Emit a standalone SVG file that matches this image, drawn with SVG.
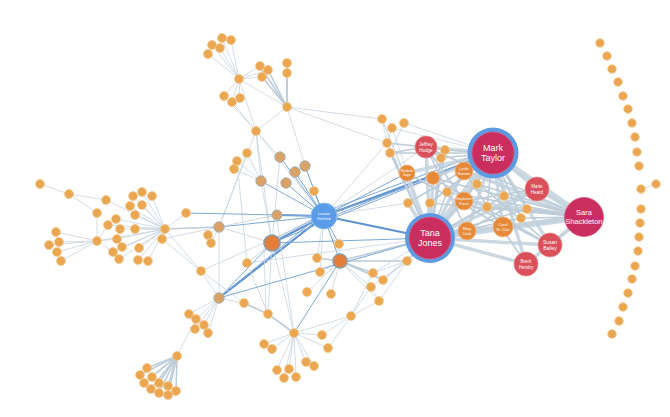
<svg xmlns="http://www.w3.org/2000/svg" width="670" height="417" viewBox="0 0 670 417">
<style>
.e{stroke:#C6D4DF;stroke-width:0.8;fill:none}
.m{stroke:#BDCCD9;stroke-width:1.6;fill:none}
.t{stroke:#C4D2DD;stroke-width:3.5;fill:none;opacity:.85}
.tt{stroke:#C4D2DD;stroke-width:6;fill:none;opacity:.85}
.b{stroke:#7DA8D8;stroke-width:1;fill:none}
.bt{stroke:#5E93D0;stroke-width:2.2;fill:none}
.o{fill:#EBA652;stroke:#F3C98F;stroke-width:0.8}
.d{fill:#D9A366;stroke:#A7AEB4;stroke-width:1}
.dd{fill:#E27E38;stroke:#8E9BA6;stroke-width:1.6}
.om{fill:#E68A3A;stroke:#F2B27A;stroke-width:0.8}
.r{fill:#D9505A;stroke:#E9868C;stroke-width:0.8}
.p{fill:#C92E5E;stroke:#D95A82;stroke-width:0.8}
.ring{fill:#5C9BE2}
.lk{fill:#5A9CE8;stroke:#8CBDF0;stroke-width:1}
text{font-family:"Liberation Sans",Arial,sans-serif;fill:#fff;text-anchor:middle}
</style>
<rect width="670" height="417" fill="#fff"/>
<g id="connectors">
<!-- top-left -->
<line class="e" x1="239" y1="79" x2="222" y2="38"/><line class="e" x1="239" y1="79" x2="231" y2="40"/><line class="e" x1="239" y1="79" x2="212" y2="45"/><line class="e" x1="239" y1="79" x2="220" y2="48"/><line class="e" x1="239" y1="79" x2="208" y2="54"/>
<line class="e" x1="239" y1="79" x2="260" y2="66"/><line class="e" x1="239" y1="79" x2="268" y2="70"/><line class="e" x1="239" y1="79" x2="262" y2="77"/>
<line class="e" x1="239" y1="79" x2="224" y2="96"/><line class="e" x1="239" y1="79" x2="232" y2="102"/><line class="e" x1="239" y1="79" x2="240" y2="98"/>
<line class="e" x1="239" y1="79" x2="256" y2="131"/><line class="e" x1="239" y1="79" x2="287" y2="107"/><line class="e" x1="224" y1="96" x2="256" y2="131"/><line class="e" x1="232" y1="102" x2="256" y2="131"/>
<line class="m" x1="287" y1="107" x2="260" y2="66"/><line class="m" x1="287" y1="107" x2="268" y2="70"/><line class="m" x1="287" y1="107" x2="262" y2="77"/><line class="m" x1="287" y1="107" x2="287" y2="63"/><line class="m" x1="287" y1="107" x2="287" y2="73"/>
<line class="e" x1="287" y1="107" x2="256" y2="131"/><line class="e" x1="287" y1="107" x2="305" y2="166"/><line class="e" x1="287" y1="107" x2="382" y2="119"/><line class="e" x1="287" y1="107" x2="387" y2="143"/>
<line class="e" x1="256" y1="131" x2="261" y2="181"/><line class="e" x1="256" y1="131" x2="280" y2="157"/><line class="e" x1="256" y1="131" x2="219" y2="227"/><line class="e" x1="256" y1="131" x2="272" y2="243"/><line class="e" x1="256" y1="131" x2="324" y2="216"/>
<line class="e" x1="247" y1="153" x2="261" y2="181"/><line class="e" x1="237" y1="161" x2="261" y2="181"/><line class="e" x1="234" y1="169" x2="261" y2="181"/><line class="e" x1="247" y1="153" x2="219" y2="227"/><line class="e" x1="237" y1="161" x2="247" y2="263"/>
<line class="e" x1="261" y1="181" x2="272" y2="243"/><line class="e" x1="280" y1="157" x2="272" y2="243"/><line class="e" x1="305" y1="166" x2="340" y2="261"/>
<!-- Louise Kitchen -->
<line class="b" x1="324" y1="216" x2="280" y2="157"/><line class="b" x1="324" y1="216" x2="305" y2="166"/><line class="b" x1="324" y1="216" x2="295" y2="172"/><line class="b" x1="324" y1="216" x2="286" y2="183"/><line class="b" x1="324" y1="216" x2="261" y2="181"/><line class="b" x1="324" y1="216" x2="314" y2="191"/>
<line class="bt" x1="324" y1="216" x2="277" y2="215"/><line class="bt" x1="324" y1="216" x2="272" y2="243"/><line class="b" x1="324" y1="214" x2="272" y2="240"/>
<line class="b" x1="324" y1="216" x2="219" y2="227"/><line class="bt" x1="324" y1="216" x2="219" y2="298"/><line class="b" x1="324" y1="216" x2="186" y2="213"/><line class="e" x1="324" y1="216" x2="201" y2="271"/>
<line class="b" x1="324" y1="216" x2="339" y2="244"/><line class="e" x1="324" y1="216" x2="317" y2="258"/><line class="b" x1="324" y1="216" x2="340" y2="261"/><line class="e" x1="324" y1="216" x2="320" y2="272"/>
<line class="bt" x1="324" y1="216" x2="493" y2="153"/><line class="b" x1="324" y1="212" x2="493" y2="149"/><line class="b" x1="324" y1="220" x2="470" y2="160"/>
<line class="bt" x1="324" y1="216" x2="430" y2="238"/><line class="b" x1="324" y1="216" x2="407" y2="173"/><line class="b" x1="324" y1="216" x2="433" y2="178"/><line class="e" x1="324" y1="216" x2="426" y2="147"/><line class="e" x1="324" y1="216" x2="387" y2="143"/><line class="e" x1="324" y1="216" x2="408" y2="203"/>
<!-- left clusters -->
<line class="e" x1="40" y1="184" x2="69" y2="194"/><line class="e" x1="69" y1="194" x2="106" y2="200"/><line class="e" x1="69" y1="194" x2="97" y2="213"/><line class="e" x1="97" y1="213" x2="97" y2="241"/><line class="e" x1="106" y1="200" x2="165" y2="229"/>
<line class="e" x1="165" y1="229" x2="133" y2="196"/><line class="e" x1="165" y1="229" x2="142" y2="192"/><line class="e" x1="165" y1="229" x2="152" y2="196"/><line class="e" x1="165" y1="229" x2="130" y2="206"/><line class="e" x1="165" y1="229" x2="142" y2="205"/><line class="e" x1="165" y1="229" x2="135" y2="215"/>
<line class="e" x1="165" y1="229" x2="116" y2="219"/><line class="e" x1="165" y1="229" x2="108" y2="225"/><line class="e" x1="165" y1="229" x2="120" y2="229"/><line class="e" x1="165" y1="229" x2="135" y2="229"/><line class="e" x1="165" y1="229" x2="117" y2="239"/><line class="e" x1="165" y1="229" x2="122" y2="247"/>
<line class="e" x1="165" y1="229" x2="113" y2="252"/><line class="e" x1="165" y1="229" x2="119" y2="259"/><line class="e" x1="165" y1="229" x2="139" y2="248"/><line class="e" x1="165" y1="229" x2="138" y2="260"/><line class="e" x1="165" y1="229" x2="148" y2="261"/><line class="e" x1="165" y1="229" x2="97" y2="241"/>
<line class="e" x1="165" y1="229" x2="186" y2="213"/><line class="e" x1="165" y1="229" x2="162" y2="239"/><line class="m" x1="165" y1="229" x2="219" y2="227"/><line class="e" x1="162" y1="239" x2="219" y2="227"/><line class="e" x1="165" y1="229" x2="201" y2="271"/>
<line class="e" x1="97" y1="241" x2="56" y2="232"/><line class="e" x1="97" y1="241" x2="59" y2="242"/><line class="e" x1="97" y1="241" x2="49" y2="245"/><line class="e" x1="97" y1="241" x2="57" y2="252"/><line class="e" x1="97" y1="241" x2="61" y2="261"/>
<line class="e" x1="97" y1="241" x2="108" y2="225"/><line class="e" x1="97" y1="241" x2="113" y2="252"/><line class="e" x1="97" y1="241" x2="117" y2="239"/>
<line class="e" x1="219" y1="227" x2="208" y2="235"/><line class="e" x1="219" y1="227" x2="211" y2="243"/><line class="e" x1="219" y1="227" x2="219" y2="298"/><line class="e" x1="219" y1="227" x2="277" y2="215"/><line class="e" x1="219" y1="227" x2="272" y2="243"/>
<!-- lower -->
<line class="e" x1="219" y1="298" x2="189" y2="314"/><line class="e" x1="219" y1="298" x2="196" y2="319"/><line class="e" x1="219" y1="298" x2="204" y2="325"/><line class="e" x1="219" y1="298" x2="195" y2="329"/><line class="e" x1="219" y1="298" x2="208" y2="333"/>
<line class="e" x1="219" y1="298" x2="201" y2="271"/><line class="b" x1="219" y1="298" x2="272" y2="243"/><line class="b" x1="221" y1="296" x2="324" y2="212"/><line class="e" x1="219" y1="298" x2="244" y2="303"/><line class="e" x1="196" y1="319" x2="177" y2="356"/>
<line class="e" x1="201" y1="271" x2="244" y2="303"/><line class="e" x1="201" y1="271" x2="162" y2="239"/>
<line class="m" x1="177" y1="356" x2="147" y2="368"/><line class="m" x1="177" y1="356" x2="140" y2="375"/><line class="m" x1="177" y1="356" x2="152" y2="377"/><line class="m" x1="177" y1="356" x2="144" y2="383"/><line class="m" x1="177" y1="356" x2="159" y2="383"/>
<line class="m" x1="177" y1="356" x2="168" y2="386"/><line class="m" x1="177" y1="356" x2="151" y2="389"/><line class="m" x1="177" y1="356" x2="159" y2="393"/><line class="m" x1="177" y1="356" x2="168" y2="395"/><line class="m" x1="177" y1="356" x2="176" y2="391"/>
<line class="m" x1="244" y1="303" x2="268" y2="314"/><line class="m" x1="268" y1="314" x2="294" y2="333"/><line class="e" x1="268" y1="314" x2="272" y2="243"/><line class="e" x1="266" y1="314" x2="264" y2="250"/><line class="e" x1="247" y1="263" x2="268" y2="314"/><line class="e" x1="247" y1="263" x2="272" y2="243"/>
<line class="e" x1="294" y1="333" x2="264" y2="344"/><line class="e" x1="294" y1="333" x2="272" y2="349"/><line class="e" x1="294" y1="333" x2="277" y2="370"/><line class="e" x1="294" y1="333" x2="289" y2="369"/><line class="e" x1="294" y1="333" x2="284" y2="378"/><line class="e" x1="294" y1="333" x2="296" y2="377"/>
<line class="e" x1="294" y1="333" x2="306" y2="362"/><line class="e" x1="294" y1="333" x2="314" y2="366"/><line class="e" x1="294" y1="333" x2="322" y2="335"/><line class="e" x1="294" y1="333" x2="328" y2="348"/><line class="e" x1="294" y1="333" x2="351" y2="316"/>
<line class="b" x1="294" y1="333" x2="340" y2="261"/><line class="e" x1="294" y1="333" x2="272" y2="243"/><line class="e" x1="294" y1="333" x2="276" y2="214"/>
<line class="e" x1="351" y1="316" x2="322" y2="335"/><line class="e" x1="351" y1="316" x2="328" y2="348"/><line class="e" x1="351" y1="316" x2="371" y2="287"/><line class="e" x1="351" y1="316" x2="379" y2="301"/><line class="e" x1="351" y1="316" x2="373" y2="273"/>
<line class="m" x1="340" y1="261" x2="317" y2="258"/><line class="e" x1="340" y1="261" x2="320" y2="272"/><line class="e" x1="340" y1="261" x2="307" y2="292"/><line class="e" x1="340" y1="261" x2="331" y2="294"/><line class="m" x1="340" y1="261" x2="373" y2="273"/>
<line class="m" x1="340" y1="261" x2="383" y2="280"/><line class="e" x1="340" y1="261" x2="371" y2="287"/><line class="e" x1="340" y1="261" x2="379" y2="301"/><line class="m" x1="340" y1="261" x2="407" y2="261"/><line class="m" x1="340" y1="261" x2="430" y2="238"/><line class="e" x1="340" y1="261" x2="339" y2="244"/>
<line class="e" x1="373" y1="273" x2="407" y2="261"/><line class="e" x1="383" y1="280" x2="407" y2="261"/><line class="e" x1="371" y1="287" x2="407" y2="261"/><line class="e" x1="379" y1="301" x2="407" y2="261"/><line class="e" x1="373" y1="273" x2="383" y2="280"/><line class="e" x1="371" y1="287" x2="379" y2="301"/>
<line class="m" x1="407" y1="261" x2="430" y2="238"/><line class="e" x1="383" y1="280" x2="430" y2="238"/><line class="e" x1="373" y1="273" x2="430" y2="238"/>
<line class="b" x1="272" y1="243" x2="430" y2="238"/><line class="b" x1="272" y1="243" x2="493" y2="153"/><line class="b" x1="219" y1="298" x2="430" y2="238"/><line class="e" x1="247" y1="263" x2="430" y2="238"/>
<!-- upper right small -->
<line class="e" x1="382" y1="119" x2="387" y2="143"/><line class="e" x1="392" y1="128" x2="387" y2="143"/><line class="e" x1="404" y1="123" x2="390" y2="153"/><line class="m" x1="387" y1="143" x2="426" y2="147"/><line class="m" x1="390" y1="153" x2="426" y2="147"/>
<line class="m" x1="387" y1="143" x2="430" y2="238"/><line class="m" x1="390" y1="153" x2="430" y2="238"/><line class="m" x1="390" y1="153" x2="493" y2="153"/><line class="e" x1="392" y1="128" x2="493" y2="153"/><line class="e" x1="404" y1="123" x2="493" y2="153"/><line class="e" x1="382" y1="119" x2="430" y2="238"/>
<line class="m" x1="426" y1="147" x2="445" y2="150"/><line class="m" x1="426" y1="147" x2="441" y2="158"/><line class="e" x1="390" y1="153" x2="407" y2="173"/>
<!-- right cluster thick -->
<line class="tt" x1="493" y1="153" x2="430" y2="238"/><line class="tt" x1="493" y1="153" x2="584" y2="217"/><line class="tt" x1="430" y1="238" x2="584" y2="217"/>
<line class="t" x1="493" y1="153" x2="426" y2="147"/><line class="t" x1="493" y1="153" x2="464" y2="171"/><line class="t" x1="493" y1="153" x2="464" y2="201"/><line class="t" x1="493" y1="153" x2="467" y2="231"/><line class="t" x1="493" y1="153" x2="503" y2="227"/>
<line class="t" x1="493" y1="153" x2="537" y2="189"/><line class="t" x1="493" y1="153" x2="550" y2="245"/><line class="t" x1="493" y1="153" x2="526" y2="264"/><line class="t" x1="493" y1="153" x2="407" y2="173"/><line class="t" x1="493" y1="153" x2="433" y2="178"/>
<line class="t" x1="430" y1="238" x2="426" y2="147"/><line class="t" x1="430" y1="238" x2="464" y2="171"/><line class="t" x1="430" y1="238" x2="464" y2="201"/><line class="t" x1="430" y1="238" x2="467" y2="231"/><line class="t" x1="430" y1="238" x2="503" y2="227"/>
<line class="t" x1="430" y1="238" x2="537" y2="189"/><line class="t" x1="430" y1="238" x2="550" y2="245"/><line class="t" x1="430" y1="238" x2="526" y2="264"/><line class="t" x1="430" y1="238" x2="407" y2="173"/><line class="t" x1="430" y1="238" x2="433" y2="178"/>
<line class="t" x1="584" y1="217" x2="537" y2="189"/><line class="t" x1="584" y1="217" x2="550" y2="245"/><line class="t" x1="584" y1="217" x2="526" y2="264"/><line class="t" x1="584" y1="217" x2="503" y2="227"/><line class="t" x1="584" y1="217" x2="467" y2="231"/>
<line class="t" x1="584" y1="217" x2="464" y2="201"/><line class="t" x1="584" y1="217" x2="464" y2="171"/><line class="m" x1="584" y1="217" x2="426" y2="147"/><line class="m" x1="584" y1="217" x2="433" y2="178"/>
<line class="m" x1="493" y1="153" x2="445" y2="150"/><line class="m" x1="493" y1="153" x2="441" y2="158"/><line class="m" x1="493" y1="153" x2="477" y2="184"/><line class="m" x1="493" y1="153" x2="447" y2="192"/><line class="m" x1="493" y1="153" x2="430" y2="203"/><line class="m" x1="493" y1="153" x2="408" y2="203"/>
<line class="m" x1="493" y1="153" x2="504" y2="196"/><line class="m" x1="493" y1="153" x2="487" y2="207"/><line class="m" x1="493" y1="153" x2="527" y2="209"/><line class="m" x1="493" y1="153" x2="521" y2="218"/>
<line class="m" x1="430" y1="238" x2="445" y2="150"/><line class="m" x1="430" y1="238" x2="441" y2="158"/><line class="m" x1="430" y1="238" x2="477" y2="184"/><line class="m" x1="430" y1="238" x2="447" y2="192"/><line class="t" x1="430" y1="238" x2="430" y2="203"/><line class="t" x1="430" y1="238" x2="408" y2="203"/>
<line class="m" x1="430" y1="238" x2="504" y2="196"/><line class="m" x1="430" y1="238" x2="487" y2="207"/><line class="m" x1="430" y1="238" x2="527" y2="209"/><line class="m" x1="430" y1="238" x2="521" y2="218"/>
<line class="m" x1="584" y1="217" x2="477" y2="184"/><line class="m" x1="584" y1="217" x2="447" y2="192"/><line class="m" x1="584" y1="217" x2="430" y2="203"/><line class="m" x1="584" y1="217" x2="504" y2="196"/><line class="m" x1="584" y1="217" x2="487" y2="207"/><line class="m" x1="584" y1="217" x2="527" y2="209"/><line class="m" x1="584" y1="217" x2="521" y2="218"/>
<line class="m" x1="537" y1="189" x2="464" y2="201"/><line class="m" x1="550" y1="245" x2="464" y2="201"/><line class="m" x1="526" y1="264" x2="464" y2="171"/><line class="m" x1="537" y1="189" x2="467" y2="231"/><line class="m" x1="550" y1="245" x2="464" y2="171"/>
<line class="m" x1="426" y1="147" x2="464" y2="201"/><line class="m" x1="426" y1="147" x2="467" y2="231"/><line class="m" x1="407" y1="173" x2="503" y2="227"/><line class="m" x1="433" y1="178" x2="550" y2="245"/>
<line class="e" x1="430" y1="238" x2="382" y2="119"/><line class="e" x1="430" y1="238" x2="392" y2="128"/>
<!-- arc -->
<line class="e" x1="641" y1="189" x2="656" y2="184"/>
</g>
<g id="n-arc">
<circle class="o" r="4.3" cx="600" cy="43"/><circle class="o" r="4.3" cx="607" cy="56"/><circle class="o" r="4.3" cx="612" cy="69"/><circle class="o" r="4.3" cx="618" cy="82"/><circle class="o" r="4.3" cx="623" cy="96"/><circle class="o" r="4.3" cx="628" cy="109"/>
<circle class="o" r="4.3" cx="632" cy="123"/><circle class="o" r="4.3" cx="635" cy="137"/><circle class="o" r="4.3" cx="637" cy="152"/><circle class="o" r="4.3" cx="639" cy="166"/><circle class="o" r="4.3" cx="641" cy="189"/><circle class="o" r="4.3" cx="656" cy="184"/>
<circle class="o" r="4.3" cx="641" cy="209"/><circle class="o" r="4.3" cx="640" cy="223"/><circle class="o" r="4.3" cx="639" cy="237"/><circle class="o" r="4.3" cx="638" cy="251"/><circle class="o" r="4.3" cx="635" cy="266"/><circle class="o" r="4.3" cx="632" cy="279"/>
<circle class="o" r="4.3" cx="628" cy="293"/><circle class="o" r="4.3" cx="623" cy="307"/><circle class="o" r="4.3" cx="619" cy="321"/><circle class="o" r="4.3" cx="612" cy="334"/>
</g>
<g id="n-topleft">
<circle class="o" r="4.5" cx="222" cy="38"/><circle class="o" r="4.5" cx="231" cy="40"/><circle class="o" r="4.5" cx="212" cy="45"/><circle class="o" r="4.5" cx="220" cy="48"/><circle class="o" r="4.5" cx="208" cy="54"/><circle class="o" r="4.5" cx="239" cy="79"/>
<circle class="o" r="4.5" cx="260" cy="66"/><circle class="o" r="4.5" cx="268" cy="70"/><circle class="o" r="4.5" cx="262" cy="77"/><circle class="o" r="4.5" cx="287" cy="63"/><circle class="o" r="4.5" cx="287" cy="73"/><circle class="o" r="4.5" cx="287" cy="107"/>
<circle class="o" r="4.5" cx="224" cy="96"/><circle class="o" r="4.5" cx="232" cy="102"/><circle class="o" r="4.5" cx="240" cy="98"/><circle class="o" r="4.5" cx="256" cy="131"/><circle class="o" r="4.5" cx="247" cy="153"/><circle class="o" r="4.5" cx="237" cy="161"/><circle class="o" r="4.5" cx="234" cy="169"/>
<circle class="d" r="5.2" cx="280" cy="157"/><circle class="d" r="5.2" cx="305" cy="166"/><circle class="d" r="5.2" cx="295" cy="172"/><circle class="d" r="5.2" cx="286" cy="183"/><circle class="d" r="5.2" cx="261" cy="181"/><circle class="o" r="4.5" cx="314" cy="191"/>
</g>
<g id="n-left">
<circle class="o" r="4.5" cx="40" cy="184"/><circle class="o" r="4.5" cx="69" cy="194"/><circle class="o" r="4.5" cx="106" cy="200"/><circle class="o" r="4.5" cx="97" cy="213"/><circle class="o" r="4.5" cx="133" cy="196"/><circle class="o" r="4.5" cx="142" cy="192"/><circle class="o" r="4.5" cx="152" cy="196"/>
<circle class="o" r="4.5" cx="130" cy="206"/><circle class="o" r="4.5" cx="142" cy="205"/><circle class="o" r="4.5" cx="135" cy="215"/><circle class="o" r="4.5" cx="116" cy="219"/><circle class="o" r="4.5" cx="108" cy="225"/><circle class="o" r="4.5" cx="120" cy="229"/><circle class="o" r="4.5" cx="135" cy="229"/>
<circle class="o" r="4.5" cx="117" cy="239"/><circle class="o" r="4.5" cx="122" cy="247"/><circle class="o" r="4.5" cx="113" cy="252"/><circle class="o" r="4.5" cx="119" cy="259"/><circle class="o" r="4.5" cx="139" cy="248"/><circle class="o" r="4.5" cx="138" cy="260"/><circle class="o" r="4.5" cx="148" cy="261"/>
<circle class="o" r="4.5" cx="97" cy="241"/><circle class="o" r="4.5" cx="56" cy="232"/><circle class="o" r="4.5" cx="59" cy="242"/><circle class="o" r="4.5" cx="49" cy="245"/><circle class="o" r="4.5" cx="57" cy="252"/><circle class="o" r="4.5" cx="61" cy="261"/>
<circle class="o" r="4.5" cx="165" cy="229"/><circle class="o" r="4.5" cx="162" cy="239"/><circle class="o" r="4.5" cx="186" cy="213"/>
</g>
<g id="n-center">
<circle class="d" r="5.2" cx="219" cy="227"/><circle class="o" r="4.5" cx="208" cy="235"/><circle class="o" r="4.5" cx="211" cy="243"/><circle class="d" r="5" cx="277" cy="215"/>
<circle class="dd" r="8" cx="272" cy="243"/><circle class="o" r="4.5" cx="339" cy="244"/><circle class="o" r="4.5" cx="317" cy="258"/><circle class="dd" r="7" cx="340" cy="261"/><circle class="o" r="4.5" cx="320" cy="272"/><circle class="o" r="4.5" cx="247" cy="263"/><circle class="o" r="4.5" cx="201" cy="271"/>
</g>
<g id="n-lower">
<circle class="d" r="5.2" cx="219" cy="298"/><circle class="o" r="4.5" cx="189" cy="314"/><circle class="o" r="4.5" cx="196" cy="319"/><circle class="o" r="4.5" cx="204" cy="325"/><circle class="o" r="4.5" cx="195" cy="329"/><circle class="o" r="4.5" cx="208" cy="333"/>
<circle class="o" r="4.5" cx="177" cy="356"/><circle class="o" r="4.5" cx="147" cy="368"/><circle class="o" r="4.5" cx="140" cy="375"/><circle class="o" r="4.5" cx="152" cy="377"/><circle class="o" r="4.5" cx="144" cy="383"/><circle class="o" r="4.5" cx="159" cy="383"/>
<circle class="o" r="4.5" cx="168" cy="386"/><circle class="o" r="4.5" cx="151" cy="389"/><circle class="o" r="4.5" cx="159" cy="393"/><circle class="o" r="4.5" cx="168" cy="395"/><circle class="o" r="4.5" cx="176" cy="391"/>
<circle class="o" r="4.5" cx="244" cy="303"/><circle class="o" r="4.5" cx="268" cy="314"/><circle class="o" r="4.5" cx="294" cy="333"/><circle class="o" r="4.5" cx="264" cy="344"/><circle class="o" r="4.5" cx="272" cy="349"/>
<circle class="o" r="4.5" cx="277" cy="370"/><circle class="o" r="4.5" cx="289" cy="369"/><circle class="o" r="4.5" cx="284" cy="378"/><circle class="o" r="4.5" cx="296" cy="377"/><circle class="o" r="4.5" cx="306" cy="362"/><circle class="o" r="4.5" cx="314" cy="366"/>
<circle class="o" r="4.5" cx="322" cy="335"/><circle class="o" r="4.5" cx="328" cy="348"/><circle class="o" r="4.5" cx="351" cy="316"/><circle class="o" r="4.5" cx="307" cy="292"/><circle class="o" r="4.5" cx="331" cy="294"/>
<circle class="o" r="4.5" cx="373" cy="273"/><circle class="o" r="4.5" cx="383" cy="280"/><circle class="o" r="4.5" cx="371" cy="287"/><circle class="o" r="4.5" cx="379" cy="301"/><circle class="o" r="4.5" cx="407" cy="261"/>
</g>
<g id="n-right-small">
<circle class="o" r="4.5" cx="392" cy="128"/><circle class="o" r="4.5" cx="404" cy="123"/><circle class="o" r="4.5" cx="382" cy="119"/><circle class="o" r="4.5" cx="387" cy="143"/><circle class="o" r="4.5" cx="390" cy="153"/>
<circle class="o" r="4.5" cx="445" cy="150"/><circle class="o" r="4.5" cx="441" cy="158"/><circle class="o" r="4.5" cx="477" cy="184"/><circle class="o" r="4.5" cx="447" cy="192"/><circle class="o" r="4.5" cx="430" cy="203"/><circle class="o" r="4.5" cx="408" cy="203"/>
<circle class="o" r="4.5" cx="504" cy="196"/><circle class="o" r="4.5" cx="487" cy="207"/><circle class="o" r="4.5" cx="527" cy="209"/><circle class="o" r="4.5" cx="521" cy="218"/><circle class="om" r="6.5" cx="433" cy="178"/>
</g>
<g id="louise-kitchen"><circle class="lk" r="13" cx="324" cy="216"/><text x="324" y="215" font-size="4">Louise</text><text x="324" y="220" font-size="4">Kitchen</text></g>
<g id="elizabeth-sager"><circle class="om" r="8" cx="407" cy="173"/><text x="407" y="172" font-size="3">Elizabeth</text><text x="407" y="176" font-size="3">Sager</text></g>
<g id="jeffrey-hodge"><circle class="r" r="11" cx="426" cy="147"/><text x="426" y="146" font-size="4.5">Jeffrey</text><text x="426" y="151.5" font-size="4.5">Hodge</text></g>
<g id="leslie-hansen"><circle class="om" r="9" cx="464" cy="171"/><text x="464" y="170" font-size="3.6">Leslie</text><text x="464" y="174.5" font-size="3.6">Hansen</text></g>
<g id="stephanie-panus"><circle class="om" r="9" cx="464" cy="201"/><text x="464" y="200" font-size="3.4">Stephanie</text><text x="464" y="204.5" font-size="3.4">Panus</text></g>
<g id="mary-cook"><circle class="om" r="9" cx="467" cy="231"/><text x="467" y="230" font-size="3.8">Mary</text><text x="467" y="234.5" font-size="3.8">Cook</text></g>
<g id="carol-st-clair"><circle class="om" r="10" cx="503" cy="227"/><text x="503" y="226" font-size="3.8">Carol</text><text x="503" y="230.5" font-size="3.8">St. Clair</text></g>
<g id="marie-heard"><circle class="r" r="12" cx="537" cy="189"/><text x="537" y="188" font-size="4.5">Marie</text><text x="537" y="193.5" font-size="4.5">Heard</text></g>
<g id="susan-bailey"><circle class="r" r="12" cx="550" cy="245"/><text x="550" y="244" font-size="5">Susan</text><text x="550" y="250" font-size="5">Bailey</text></g>
<g id="brent-hendry"><circle class="r" r="12" cx="526" cy="264"/><text x="526" y="263" font-size="4.5">Brent</text><text x="526" y="268.5" font-size="4.5">Hendry</text></g>
<g id="mark-taylor"><circle class="ring" r="25.5" cx="493" cy="153"/><circle class="p" r="21" cx="493" cy="153"/><text x="493" y="151" font-size="9">Mark</text><text x="493" y="161" font-size="9">Taylor</text></g>
<g id="tana-jones"><circle class="ring" r="25" cx="430" cy="238"/><circle class="p" r="21" cx="430" cy="238"/><text x="430" y="236" font-size="9">Tana</text><text x="430" y="246" font-size="9">Jones</text></g>
<g id="sara-shackleton"><circle class="p" r="19.5" cx="584" cy="217"/><text x="584" y="215" font-size="7.5">Sara</text><text x="584" y="224" font-size="7.5">Shackleton</text></g>
</svg>
